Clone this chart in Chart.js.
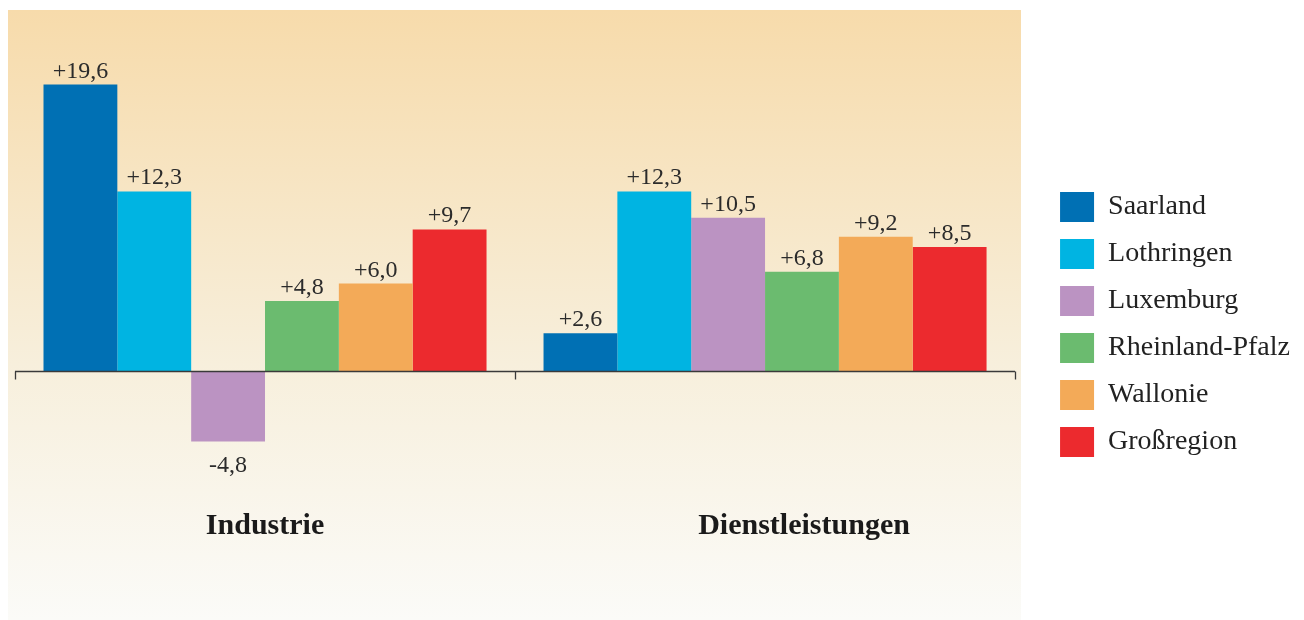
<!DOCTYPE html>
<html lang="de">
<head>
<meta charset="utf-8">
<title>Beschäftigungsentwicklung Großregion</title>
<script src="https://cdn.jsdelivr.net/npm/chart.js@4"></script>
<style>
  html, body { margin: 0; padding: 0; background: #ffffff; }
  #wrap { width: 1304px; height: 620px; position: relative; }
</style>
</head>
<body>
<div id="wrap"><canvas id="sektorenChart"></canvas></div>
<script>
// Sektoren (x-Achse) und Regionen (je ein Balken pro Sektor)
const sektoren = ['Industrie', 'Dienstleistungen'];
const regionen = ['Saarland', 'Lothringen', 'Luxemburg', 'Rheinland-Pfalz', 'Wallonie', 'Großregion'];
const farben = ['#0070b4', '#00b4e2', '#bb93c2', '#6bbb6f', '#f3aa58', '#ec2a2e'];

// Veränderung in % je Region
const industrie = [19.6, 12.3, -4.8, 4.8, 6.0, 9.7];
const dienstleistungen = [2.6, 12.3, 10.5, 6.8, 9.2, 8.5];

const schrift = '"Liberation Serif", "Times New Roman", serif';

function formatWert(v) {
    const s = Math.abs(v).toFixed(1).replace('.', ',');
    return (v < 0 ? '-' : '+') + s;
}

// Hintergrundfläche mit Verlauf hinter dem Diagramm
const hintergrund = {
    id: 'hintergrund',
    beforeDraw(chart, args, opts) {
        const ctx = chart.ctx;
        const g = ctx.createLinearGradient(0, opts.top, 0, opts.bottom);
        g.addColorStop(0, '#f7dbab');
        g.addColorStop(0.58, '#f7efdc');
        g.addColorStop(1, '#fbfbf8');
        ctx.save();
        ctx.fillStyle = g;
        ctx.fillRect(opts.left, opts.top, opts.right - opts.left, opts.bottom - opts.top);
        ctx.restore();
    }
};

// Nulllinie mit Teilstrichen an den Sektorgrenzen
const nullAchse = {
    id: 'nullAchse',
    afterDatasetsDraw(chart) {
        const {ctx, scales: {x, y}} = chart;
        const y0 = Math.round(y.getPixelForValue(0)) + 0.5;
        const breite = (x.right - x.left) / sektoren.length;
        ctx.save();
        ctx.strokeStyle = '#3a3a3a';
        ctx.lineWidth = 1.3;
        ctx.beginPath();
        ctx.moveTo(x.left, y0);
        ctx.lineTo(x.right, y0);
        for (let i = 0; i <= sektoren.length; i++) {
            const px = Math.round(x.left + i * breite) + 0.5;
            ctx.moveTo(px, y0);
            ctx.lineTo(px, y0 + 8);
        }
        ctx.stroke();
        ctx.restore();
    }
};

// Werte über bzw. unter den Balken, Sektornamen darunter
const beschriftung = {
    id: 'beschriftung',
    afterDatasetsDraw(chart, args, opts) {
        const {ctx, scales: {x, y}} = chart;
        const y0 = y.getPixelForValue(0);
        ctx.save();
        ctx.font = '24px ' + schrift;
        ctx.fillStyle = '#2b2b2b';
        ctx.textAlign = 'center';
        ctx.textBaseline = 'alphabetic';
        chart.data.datasets.forEach((ds, di) => {
            chart.getDatasetMeta(di).data.forEach((bar, i) => {
                const v = ds.data[i];
                const ty = v < 0 ? bar.y + 30 : bar.y - 7;
                ctx.fillText(formatWert(v), bar.x, ty);
            });
        });
        ctx.font = 'bold 30px ' + schrift;
        ctx.fillStyle = '#1a1a1a';
        sektoren.forEach((s, i) => {
            ctx.fillText(s, x.getPixelForValue(i) + (opts.versatz[i] || 0), y0 + 163);
        });
        ctx.restore();
    }
};

const datasets = regionen.map((r, i) => ({
    label: r,
    data: [industrie[i], dienstleistungen[i]],
    backgroundColor: farben[i],
    borderWidth: 0
}));

new Chart(document.getElementById('sektorenChart').getContext('2d'), {
    type: 'bar',
    data: { labels: sektoren, datasets: datasets },
    options: {
        responsive: true,
        maintainAspectRatio: false,
        animation: false,
        layout: { padding: { left: 15, right: 4, top: 29, bottom: 0 } },
        categoryPercentage: 0.886,
        barPercentage: 1,
        scales: {
            x: { display: false },
            y: {
                position: 'right',
                min: -17,
                max: 23.4,
                grid: { display: false },
                border: { display: false },
                ticks: { display: false },
                // Abstand zwischen Diagramm und Legende
                afterFit(scale) { scale.width = 28; }
            }
        },
        plugins: {
            legend: {
                position: 'right',
                align: 'center',
                labels: {
                    boxWidth: 34,
                    boxHeight: 30,
                    padding: 17,
                    color: '#222222',
                    font: { family: schrift, size: 28 }
                }
            },
            tooltip: { enabled: false },
            hintergrund: { left: 8, right: 1021, top: 10, bottom: 620 },
            beschriftung: { versatz: [0, 39] }
        }
    },
    plugins: [hintergrund, nullAchse, beschriftung]
});
</script>
</body>
</html>
